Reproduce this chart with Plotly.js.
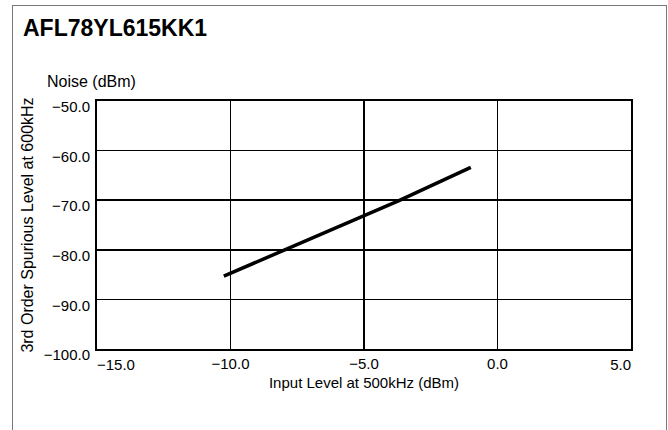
<!DOCTYPE html>
<html>
<head>
<meta charset="utf-8">
<script src="https://cdn.plot.ly/plotly-3.0.1.min.js"></script>
<style>
  html, body { margin: 0; padding: 0; background: #fff; }
  #wrap { position: relative; width: 668px; height: 430px; overflow: hidden; }
  #chart { width: 668px; height: 430px; }
  #frame { position: absolute; left: 12px; top: 5px; width: 653px; height: 440px;
           border-left: 1px solid #777; border-top: 1px solid #777; border-right: 1px solid #777;
           pointer-events: none; }
</style>
</head>
<body>
<div id="wrap">
  <div id="chart"></div>
  <div id="frame"></div>
</div>
<script>
// Data
const inputLevel = [-10.25, -8.06, -5.0, -3.69, -1.0];
const spuriousLevel = [-85.3, -80.2, -73.2, -70.1, -63.4];

const xTickVals = [-15, -10, -5, 0, 5];
const xTickText = ['\u221215.0', '\u221210.0', '\u22125.0', '0.0', '5.0'];
const yTickVals = [-50, -60, -70, -80, -90, -100];
const yTickText = ['\u221250.0', '\u221260.0', '\u221270.0', '\u221280.0', '\u221290.0', '\u2212100.0'];

const chartTitle = 'AFL78YL615KK1';
const xTitle = 'Input Level at 500kHz (dBm)';
const yTitle = '3rd Order Spurious Level at 600kHz';
const yUnit = 'Noise (dBm)';

const font = 'Liberation Sans, Arial, Helvetica, sans-serif';
const xRange = [xTickVals[0], xTickVals[xTickVals.length - 1]];
const last = xTickVals.length - 1;

const trace = {
  x: inputLevel,
  y: spuriousLevel,
  mode: 'lines',
  line: { color: '#000', width: 3.5 },
  hoverinfo: 'skip',
  showlegend: false
};
// invisible helpers so the end-label axes get drawn
const helper2 = { x: xRange, y: [null, null], xaxis: 'x2', mode: 'lines', showlegend: false, hoverinfo: 'skip' };
const helper3 = { x: xRange, y: [null, null], xaxis: 'x3', mode: 'lines', showlegend: false, hoverinfo: 'skip' };

const tickFont = { family: font, size: 15, color: '#000' };
const endAxis = (vals, text, pos) => ({
  range: xRange, overlaying: 'x', anchor: 'y', side: 'bottom',
  tickvals: vals, ticktext: text, ticklabelposition: pos,
  ticklabelstandoff: 5,
  showgrid: false, showline: false, zeroline: false, ticks: '',
  tickfont: tickFont
});

const layout = {
  width: 668,
  height: 430,
  margin: { l: 97, r: 37, t: 101, b: 81 },
  paper_bgcolor: '#fff',
  plot_bgcolor: '#fff',
  font: { family: font, color: '#000', size: 15 },
  title: {
    text: '<b>' + chartTitle + '</b>',
    font: { family: font, size: 23, color: '#000' },
    x: 23 / 668, xanchor: 'left', xref: 'container',
    y: 1 - 28 / 430, yanchor: 'middle', yref: 'container'
  },
  xaxis: {
    range: xRange,
    tickvals: xTickVals,
    ticktext: xTickText.map((t, i) => (i === 0 || i === last) ? '' : t),
    showgrid: true, gridcolor: '#000', gridwidth: 1.5,
    showline: true, linecolor: '#000', linewidth: 2, mirror: true,
    zeroline: false,
    ticks: '',
    tickfont: tickFont,
    title: { text: xTitle, font: { family: font, size: 15, color: '#000' }, standoff: 6 }
  },
  xaxis2: endAxis([xTickVals[0]], [xTickText[0]], 'outside right'),
  xaxis3: endAxis([xTickVals[last]], [xTickText[last]], 'outside left'),
  yaxis: {
    range: [-100, -50],
    tickvals: yTickVals,
    ticktext: yTickText,
    showgrid: true, gridcolor: '#000', gridwidth: 1.5,
    showline: true, linecolor: '#000', linewidth: 2, mirror: true,
    zeroline: false,
    ticks: '',
    ticklabelstandoff: 2,
    ticklabelshift: 6,
    tickfont: tickFont,
    title: { text: yTitle, font: { family: font, size: 16, color: '#000' }, standoff: 6 }
  },
  annotations: [{
    text: yUnit,
    xref: 'paper', yref: 'paper',
    x: 0, y: 1, xanchor: 'left', yanchor: 'middle',
    xshift: -52, yshift: 20,
    showarrow: false,
    font: { family: font, size: 16, color: '#000' }
  }]
};

Plotly.newPlot('chart', [trace, helper2, helper3], layout, { displayModeBar: false, staticPlot: true });
</script>
</body>
</html>
